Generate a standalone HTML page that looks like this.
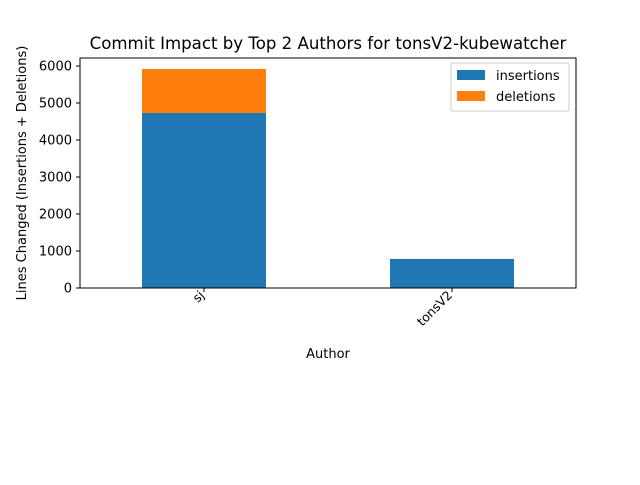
<!DOCTYPE html>
<html><head><meta charset="utf-8"><style>
body{margin:0;background:#fff;font-family:"Liberation Sans","DejaVu Sans",sans-serif}
</style></head><body>
<svg width="640" height="480" xmlns="http://www.w3.org/2000/svg" font-family="DejaVu Sans, Liberation Sans, sans-serif">
<text x="328" y="49" font-size="16.6" text-anchor="middle">Commit Impact by Top 2 Authors for tonsV2-kubewatcher</text>
<g id="plot"></g>
<text x="328" y="358" font-size="13" text-anchor="middle">Author</text>
<text transform="translate(26,173) rotate(-90)" font-size="13" text-anchor="middle">Lines Changed (Insertions + Deletions)</text>
<g>
<rect x="451" y="63" width="118" height="48" fill="#fff" stroke="#ccc" rx="2"/>
<rect x="457" y="70" width="28" height="10" fill="#1f77b4"/>
<text x="496" y="80" font-size="13">insertions</text>
<rect x="457" y="91" width="28" height="10" fill="#ff7f0e"/>
<text x="496" y="101" font-size="13">deletions</text>
</g>
</svg>
<script>
const categories = ["sj", "tonsV2"];
const insertions = [4730, 784];
const deletions = [1190, 3];
const yTicks = [0, 1000, 2000, 3000, 4000, 5000, 6000];

const L=80,R=576,T=58,B=288;
const y=v=>B-v*(222/6000);
const x=i=>L+(i+0.5)*(R-L)/categories.length;
const bw=(R-L)/categories.length*0.5;
const g=document.getElementById('plot');
const NS="http://www.w3.org/2000/svg";
function mk(t,a){const e=document.createElementNS(NS,t);for(const k in a)e.setAttribute(k,a[k]);g.appendChild(e);return e;}
categories.forEach((c,i)=>{
  let r=mk('rect',{x:x(i)-bw/2,y:y(insertions[i]),width:bw,height:B-y(insertions[i]),fill:'#1f77b4'});
  
  
  r=mk('rect',{x:x(i)-bw/2,y:y(insertions[i]+deletions[i]),width:bw,height:y(insertions[i])-y(insertions[i]+deletions[i]),fill:'#ff7f0e'});
  
  
  mk('line',{x1:x(i),x2:x(i),y1:B,y2:B+4,stroke:'#000'});
  const t=mk('text',{x:0,y:0,'font-size':12.5,'text-anchor':'end',transform:`translate(${x(i)+1},${B+8}) rotate(-45)`});
  t.textContent=c;
  
  
});
yTicks.forEach(v=>{
  mk('line',{x1:L-4,x2:L,y1:y(v),y2:y(v),stroke:'#000'});
  const t=mk('text',{x:L-8,y:y(v)+4.5,'font-size':13,'text-anchor':'end'});
  t.textContent=v;
  
  
});
const f=mk('rect',{x:L,y:T,width:R-L,height:B-T,fill:'none',stroke:'#000','stroke-width':1});


</script>
</body></html>
